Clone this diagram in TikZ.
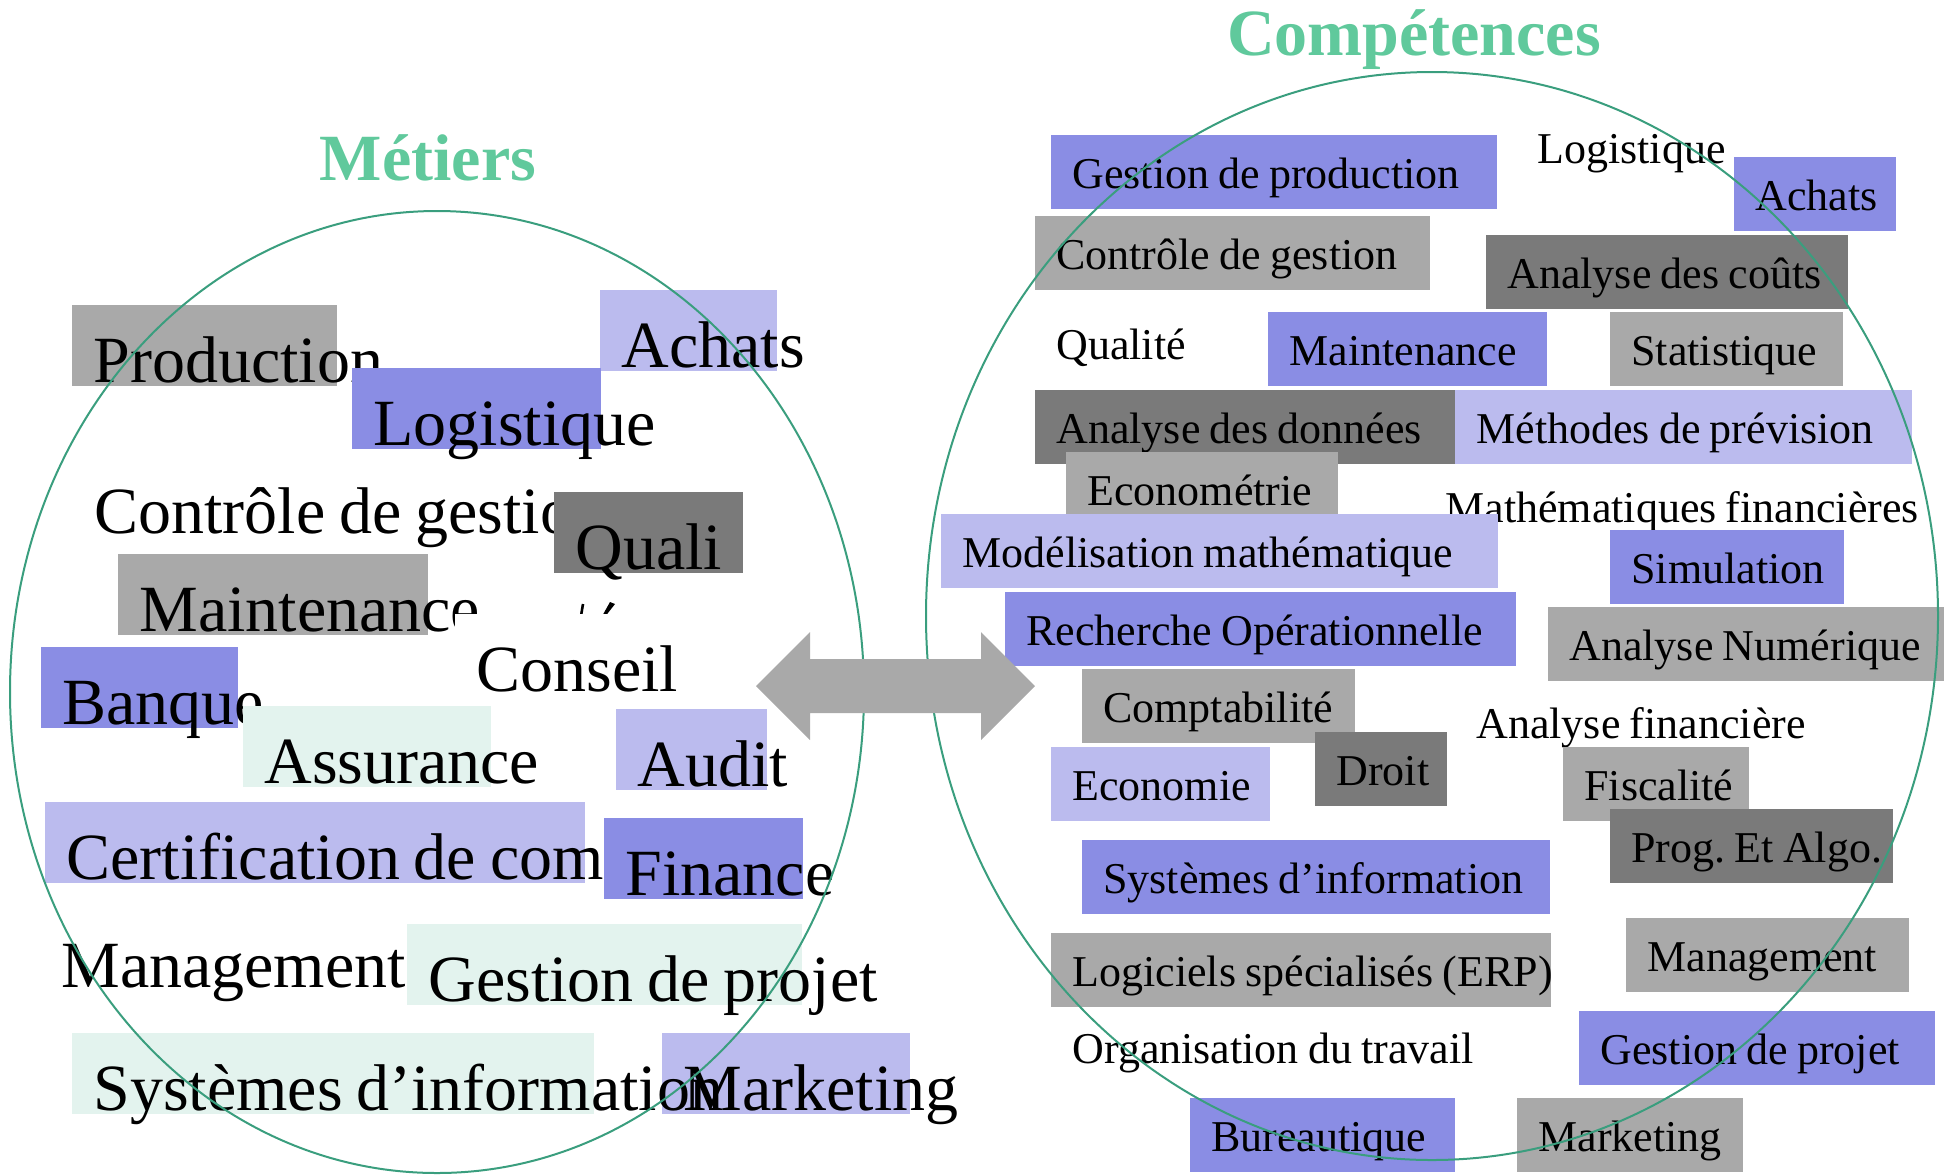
\documentclass[tikz,border=0pt]{standalone}
\usepackage{fontspec}
\setmainfont{Liberation Serif}
\usepackage{tikz}
\frenchspacing

\definecolor{bleu}{HTML}{8A8DE4}
\definecolor{lavande}{HTML}{BBBBEE}
\definecolor{gris}{HTML}{A9A9A9}
\definecolor{grisfonce}{HTML}{7A7A7A}
\definecolor{menthe}{HTML}{E3F3EE}
\definecolor{vert}{HTML}{3A9E7E}
\definecolor{titre}{HTML}{60C99C}

\begin{document}
\begin{tikzpicture}[x=0.5pt, y=-0.5pt,
    boite/.style={anchor=north west, inner xsep=10.5pt, inner ysep=0pt, text width=#1,
        execute at begin node={\hbox\bgroup\spaceskip=0.21em\relax}, execute at end node=\egroup},
    metier/.style={boite=#1, text height=38.5pt, text depth=2pt, font=\fontsize{33}{40}\selectfont},
    competence/.style={boite=#1, text height=26.5pt, text depth=10.5pt, font=\fontsize{22}{26}\selectfont},
    titre/.style={anchor=base, text=titre, font=\fontsize{33}{40}\selectfont\bfseries}]
    \useasboundingbox (0,0) rectangle (1955,1175);

    % Titres
    \node[titre] (tmetiers) at (428,180) {Métiers};
    \node[titre] (tcompet) at (1414,55) {Compétences};

    % Métiers
    \node[metier=111.5pt, fill=gris] (prod) at (72,305) {Production};
    \node[metier=67.5pt, fill=lavande] (achats) at (600,290) {Achats};
    \node[metier=103.5pt, fill=bleu] (logist) at (352,368) {Logistique};
    \node[metier=300pt] (cdg) at (73,456) {Contrôle de gestio};
    \node[metier=73.5pt, fill=grisfonce] (quali) at (554,492) {Quali};
    \node[metier=134pt, fill=gris] (maint) at (118,554) {Maintenance};
    \draw[line width=1.3pt] (583,604) -- (581,616);
    \fill (601,618) -- (610,602) -- (615,604) -- (604,618) -- cycle;
    \node[metier=111.5pt, fill=white] (conseil) at (455,614) {Conseil};
    \node[metier=77.5pt, fill=bleu] (banque) at (41,647) {Banque};
    \node[metier=103pt, fill=menthe] (assur) at (243,706) {Assurance};
    \node[metier=54.5pt, fill=lavande] (audit) at (616,709) {Audit};
    \node[metier=249pt, fill=lavande] (certif) at (45,802) {Certification de com};
    \node[metier=78.5pt, fill=bleu] (finance) at (604,818) {Finance};
    \node[metier=300pt] (mgmt) at (40,910) {Management};
    \node[metier=176.5pt, fill=menthe] (gdp) at (407,924) {Gestion de projet};
    \node[metier=103pt, fill=lavande] (mkt) at (662,1033) {Marketing};
    \node[metier=240pt, fill=menthe] (si) at (72,1033) {Systèmes d’information};

    % Compétences
    \node[competence=202pt, fill=bleu] (gprod) at (1051,135) {Gestion de production};
    \node[competence=150pt] (logist2) at (1516,110) {Logistique};
    \node[competence=60pt, fill=bleu] (achats2) at (1734,157) {Achats};
    \node[competence=176.5pt, fill=gris] (cdg2) at (1035,216) {Contrôle de gestion};
    \node[competence=160pt, fill=grisfonce] (couts) at (1486,235) {Analyse des coûts};
    \node[competence=100pt] (qualite) at (1035,306) {Qualité};
    \node[competence=118.5pt, fill=bleu] (maint2) at (1268,312) {Maintenance};
    \node[competence=95.5pt, fill=gris] (stat) at (1610,312) {Statistique};
    \node[competence=189pt, fill=grisfonce] (donnees) at (1035,390) {Analyse des données};
    \node[competence=207.5pt, fill=lavande] (prev) at (1455,390) {Méthodes de prévision};
    \node[competence=115pt, fill=gris] (econo) at (1066,452) {Econométrie};
    \node[competence=220pt] (mathfi) at (1424,469) {Mathématiques financières};
    \node[competence=257.5pt, fill=lavande] (model) at (941,514) {Modélisation mathématique};
    \node[competence=96pt, fill=bleu] (simul) at (1610,530) {Simulation};
    \node[competence=234.5pt, fill=bleu] (ro) at (1005,592) {Recherche Opérationnelle};
    \node[competence=177pt, fill=gris] (anum) at (1548,607) {Analyse Numérique};
    \node[competence=115.5pt, fill=gris] (compta) at (1082,669) {Comptabilité};
    \node[competence=160pt] (anafi) at (1455,685) {Analyse financière};
    \node[competence=88.5pt, fill=lavande] (eco) at (1051,747) {Economie};
    \node[competence=45pt, fill=grisfonce] (droit) at (1315,732) {Droit};
    \node[competence=72pt, fill=gris] (fisc) at (1563,747) {Fiscalité};
    \node[competence=120.5pt, fill=grisfonce] (prog) at (1610,809) {Prog. Et Algo.};
    \node[competence=213pt, fill=bleu] (si2) at (1082,840) {Systèmes d’information};
    \node[competence=229pt, fill=gris] (erp) at (1051,933) {Logiciels spécialisés (ERP)};
    \node[competence=120.5pt, fill=gris] (mgmt2) at (1626,918) {Management};
    \node[competence=200pt] (orga) at (1051,1010) {Organisation du travail};
    \node[competence=157pt, fill=bleu] (gdp2) at (1579,1011) {Gestion de projet};
    \node[competence=111.5pt, fill=bleu] (bureau) at (1190,1098) {Bureautique};
    \node[competence=92pt, fill=gris] (mkt2) at (1517,1098) {Marketing};

    % Ensembles
    \draw[vert, line width=1pt] (437,692) ellipse [x radius=213.5pt, y radius=240.5pt];
    \draw[vert, line width=1pt] (1432,616) ellipse [x radius=253pt, y radius=272pt];

    % Double flèche
    \fill[gris] (756,686) -- (810,632) -- (810,659) -- (981,659) -- (981,632) -- (1035,686)
        -- (981,740) -- (981,713) -- (810,713) -- (810,740) -- cycle;
\end{tikzpicture}
\end{document}
